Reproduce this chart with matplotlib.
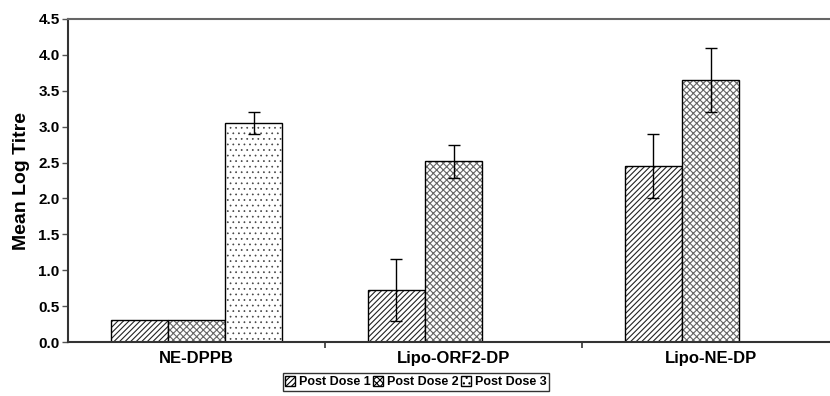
import numpy as np
import matplotlib
matplotlib.use('Agg')
import matplotlib.pyplot as plt
from matplotlib.patches import Patch

plt.rcParams['font.family'] = ['Liberation Sans', 'DejaVu Sans']
plt.rcParams['font.weight'] = 'bold'
plt.rcParams['hatch.linewidth'] = 0.8

groups = ['NE-DPPB', 'Lipo-ORF2-DP', 'Lipo-NE-DP']
series = ['Post Dose 1', 'Post Dose 2', 'Post Dose 3']
dose1 = [0.30, 0.72, 2.45]
dose2 = [0.30, 2.52, 3.65]
dose3 = [3.05, np.nan, np.nan]
err1 = [np.nan, 0.43, 0.45]
err2 = [np.nan, 0.23, 0.45]
err3 = [0.15, np.nan, np.nan]

fig = plt.figure(figsize=(8.3, 3.96), dpi=100)
ax = fig.add_axes([68 / 830, 54 / 396, 771 / 830, 323 / 396])

x = np.arange(len(groups))
w = 0.222
hatches = ['//////', 'xxxxx', '...']
hcolors = ['#222222', '#666666', '#444444']
hwidths = [0.8, 0.8, 0.5]
for i, (vals, errs) in enumerate(zip([dose1, dose2, dose3], [err1, err2, err3])):
    pos = x + (i - 1) * w
    # hatch layer, then black outline on top
    with plt.rc_context({'hatch.linewidth': hwidths[i]}):
        ax.bar(pos, vals, w, facecolor='white', edgecolor=hcolors[i], hatch=hatches[i],
               linewidth=0)
    ax.bar(pos, vals, w, facecolor='none', edgecolor='black', linewidth=1.0)
    ax.errorbar(pos, vals, yerr=errs, fmt='none', ecolor='black', elinewidth=1.0,
                capsize=4, capthick=1.0)

ax.set_xlim(-0.5, 2.5)
ax.set_ylim(0, 4.5)
ax.set_yticks(np.arange(0, 4.51, 0.5))
ax.set_yticklabels([f'{v:.1f}' for v in np.arange(0, 4.51, 0.5)], fontsize=11, fontweight='bold')
ax.set_xticks([0.5, 1.5])
ax.set_xticklabels([])
ax.tick_params(axis='x', length=4, width=1.2, color='#333333', direction='out')
ax.tick_params(axis='y', length=4, width=1.0, color='#555555', pad=2)
for j, g in enumerate(groups):
    ax.text(j, -0.12, g, ha='center', va='top', fontsize=12, fontweight='bold',
            transform=ax.transData)
ax.set_ylabel('Mean Log Titre', fontsize=14, fontweight='bold', labelpad=6)

for s in ['left', 'bottom']:
    ax.spines[s].set_linewidth(1.5)
    ax.spines[s].set_color('#333333')
ax.spines['top'].set_linewidth(1.5)
ax.spines['top'].set_color('#666666')
ax.spines['right'].set_visible(False)

# legend handles: hatch patches with black outline
handles = [Patch(facecolor='white', edgecolor='black', hatch=hatches[i], linewidth=1.0,
                 label=series[i]) for i in range(3)]
leg = fig.legend(handles=handles, loc='center', bbox_to_anchor=(416 / 830, 14 / 396), ncol=3,
                 fontsize=9, frameon=True, fancybox=False, edgecolor='black',
                 handlelength=0.8, handleheight=0.8, handletextpad=0.3,
                 columnspacing=0.2, borderpad=0.2, borderaxespad=0)
leg.get_frame().set_linewidth(1.0)
for t in leg.get_texts():
    t.set_fontweight('bold')

fig.savefig('out.png', dpi=100)
